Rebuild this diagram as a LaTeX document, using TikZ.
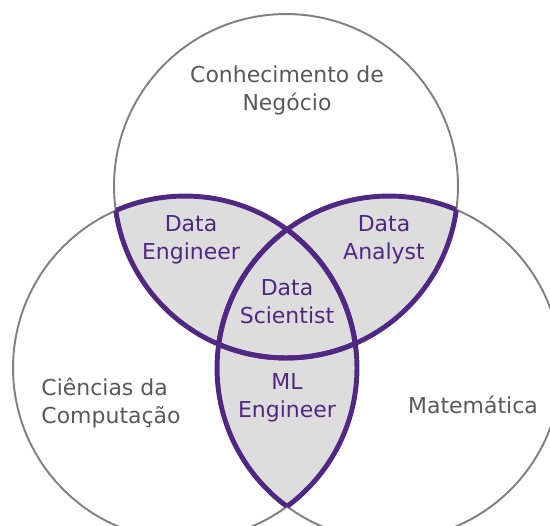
\documentclass[tikz,border=0pt]{standalone}
\usepackage{fontspec}
\setmainfont{DejaVu Sans}
\usepackage{xcolor}

\begin{document}
\begin{tikzpicture}[x=0.02cm, y=-0.02cm]
      \definecolor{clrline}{RGB}{128,128,128}
      \definecolor{clrtext}{RGB}{89,89,89}
      \definecolor{clrpurple}{RGB}{80,40,132}
      \definecolor{clrfill}{RGB}{221,221,221}
      \tikzset{
        ring/.style={draw=clrline, line width=1.1pt},
        edge/.style={draw=clrpurple, line width=2.8pt},
        field/.style={font=\fontsize{12.5}{15.9}\selectfont, text=clrtext, align=center, inner sep=0pt},
        role/.style={field, text=clrpurple}
      }
      \def\rad{3.44cm}
      \useasboundingbox (0, 0) rectangle (550, 525);
      \clip (0, 0) rectangle (550, 525);

      \coordinate (top) at (286, 186);
      \coordinate (lft) at (185, 368);
      \coordinate (rgt) at (389, 368);

      \foreach \a/\b in {top/lft, top/rgt, lft/rgt} {
        \begin{scope}
          \clip (\b) circle[radius=\rad];
          \fill[clrfill] (\a) circle[radius=\rad];
        \end{scope}
      }

      \foreach \c in {top, lft, rgt}
        \draw[ring] (\c) circle[radius=\rad];

      \foreach \a/\b in {top/lft, top/rgt, lft/top, lft/rgt, rgt/top, rgt/lft} {
        \begin{scope}
          \clip (\b) circle[radius=\rad];
          \draw[edge] (\a) circle[radius=\rad];
        \end{scope}
      }

      \node[field] (negocio) at (287, 90) {Conhecimento de\\Negócio};
      \node[field, align=left] (computacao) at (111, 403) {Ciências da\\Computação};
      \node[field] (matematica) at (473, 405) {Matemática};

      \node[role] (engineer) at (191, 240) {Data\\Engineer};
      \node[role] (analyst) at (384, 240) {Data\\Analyst};
      \node[role] (scientist) at (287, 302) {Data\\Scientist};
      \node[role] (ml) at (287, 398) {ML\\Engineer};
    \end{tikzpicture}
\end{document}
